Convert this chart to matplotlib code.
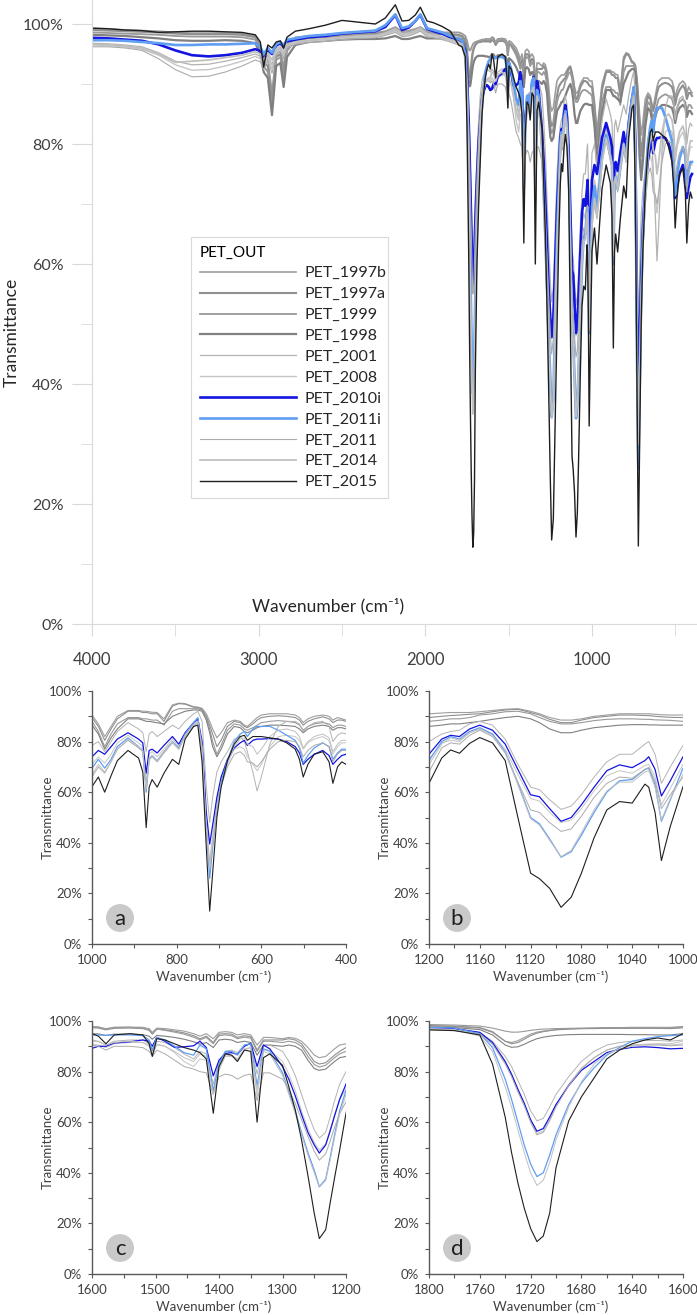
import matplotlib
matplotlib.use("Agg")
import matplotlib.pyplot as plt
from matplotlib.patches import Circle
from matplotlib.ticker import MultipleLocator, PercentFormatter

plt.rcParams["font.family"] = ["Lato", "DejaVu Sans"]

# wavenumber grid (cm-1) shared by every spectrum
wavenumber = [
    4000, 3900, 3800, 3700, 3600, 3500, 3400, 3300, 3200, 3100, 3020, 2990, 2970, 2945, 2920, 2895, 2870,
    2850, 2830, 2780, 2700, 2600, 2500, 2400, 2300, 2240, 2180, 2140, 2100, 2060, 2030, 1990, 1950, 1900, 1850,
    1800, 1780, 1760, 1750, 1740, 1735, 1730, 1725, 1720, 1715, 1710, 1705, 1700, 1690, 1680, 1670, 1660,
    1650, 1640, 1630, 1620, 1610,
    1600, 1590, 1578, 1565, 1540, 1520, 1510, 1505, 1498, 1485, 1470, 1455, 1440, 1430, 1420, 1409, 1400,
    1390, 1380, 1371, 1360, 1350, 1340, 1330, 1320, 1300, 1290, 1280, 1270, 1260, 1250, 1242, 1232, 1225, 1218, 1210,
    1200, 1190, 1183, 1176, 1168, 1160, 1150, 1140, 1130, 1120, 1113, 1105, 1096, 1088, 1080, 1070, 1060,
    1050, 1040, 1030, 1027, 1022, 1017, 1010,
    1000, 985, 970, 955, 940, 915, 890, 880, 872, 865, 858, 846, 830, 810, 795, 780, 760, 750, 740, 730, 722,
    715, 705, 695, 680, 664, 650, 640, 633, 620, 610, 600, 580, 560, 540, 520, 510, 501, 490, 475, 455, 440,
    431, 420, 410, 400,
]

# transmittance (%)
pet_1997b = [
    99.3, 99.2, 99.0, 98.9, 98.8, 98.6, 98.5, 98.5, 98.5, 98.4, 98.0, 96.5, 94.5, 94.0, 88.7, 95.0, 95.5,
    93.0, 96.5, 97.8, 98.0, 98.2, 98.4, 98.6, 98.6, 98.8, 99.5, 98.8, 98.9, 99.2, 99.5, 98.8, 98.7, 98.5, 98.3,
    98.0, 97.8, 97.2, 95.5, 92.0, 91.5, 92.2, 93.5, 94.8, 95.6, 96.0, 96.3, 96.6, 96.9, 97.0, 97.1, 97.2,
    97.2, 97.2, 97.2, 97.2, 97.2,
    97.6, 97.5, 97.0, 97.5, 97.6, 97.5, 97.0, 95.5, 97.2, 97.0, 96.5, 96.0, 95.0, 94.0, 95.0, 93.0, 95.5,
    95.8, 95.5, 94.5, 95.0, 94.5, 90.5, 93.5, 93.5, 93.0, 93.5, 93.2, 92.0, 89.5, 86.5, 85.5, 86.0, 87.5, 89.0, 90.5,
    91.0, 91.3, 91.5, 91.5, 91.5, 91.8, 92.3, 92.8, 93.0, 92.0, 91.0, 89.5, 88.5, 88.5, 89.0, 90.0, 90.5,
    91.0, 91.0, 91.0, 91.0, 90.8, 90.6, 90.5,
    90.5, 87.0, 82.0, 86.0, 90.0, 92.3, 92.3, 92.0, 92.0, 91.8, 91.6, 91.5, 89.0, 94.5, 95.2, 95.0, 93.8,
    93.6, 93.2, 91.0, 88.0, 85.0, 81.5, 83.5, 87.5, 88.5, 88.0, 86.5, 86.0, 88.0, 89.5, 90.5, 91.0, 91.0,
    91.0, 90.5, 89.5, 87.5, 89.0, 90.0, 90.5, 90.0, 88.5, 89.5, 89.0, 88.5,
]
pet_1997a = [
    99.0, 98.9, 98.8, 98.7, 98.6, 98.4, 98.3, 98.3, 98.3, 98.2, 97.8, 96.0, 93.5, 93.0, 87.1, 94.5, 95.0,
    92.0, 96.0, 97.5, 97.8, 98.0, 98.2, 98.4, 98.4, 98.6, 99.2, 98.5, 98.6, 98.9, 99.2, 98.5, 98.4, 98.3, 98.3,
    98.2, 98.0, 97.4, 95.8, 92.0, 91.0, 91.5, 92.8, 94.2, 95.2, 95.8, 96.2, 96.5, 96.8, 97.0, 97.0, 97.1,
    97.1, 97.1, 97.1, 97.1, 97.0,
    97.3, 97.2, 96.5, 97.1, 97.2, 97.0, 96.3, 94.8, 96.8, 96.5, 96.0, 95.3, 94.2, 93.0, 94.0, 91.5, 94.8,
    95.0, 94.8, 93.5, 94.2, 93.8, 88.5, 92.5, 92.5, 92.5, 93.0, 92.5, 91.0, 87.5, 84.0, 83.0, 83.5, 85.0, 86.5, 88.0,
    89.5, 90.0, 90.3, 90.5, 90.8, 91.0, 91.8, 92.5, 92.8, 91.5, 90.5, 88.8, 87.5, 87.5, 88.5, 89.5, 90.0,
    90.5, 90.5, 90.3, 90.3, 90.0, 89.8, 89.6,
    89.5, 86.0, 80.5, 85.0, 89.0, 92.0, 92.0, 91.5, 91.5, 91.3, 91.0, 91.0, 88.0, 94.0, 95.0, 94.8, 93.6,
    93.5, 92.8, 90.0, 86.5, 83.0, 78.0, 80.5, 86.0, 88.0, 87.5, 86.0, 85.5, 87.0, 88.5, 89.5, 90.0, 90.2,
    90.0, 89.5, 88.5, 86.5, 88.0, 89.0, 89.8, 89.0, 87.5, 88.5, 88.5, 88.0,
]
pet_1999 = [
    98.6, 98.5, 98.4, 98.3, 98.2, 98.0, 97.9, 97.9, 97.9, 97.8, 97.4, 95.5, 93.0, 92.0, 86.0, 94.0, 94.5,
    91.0, 95.5, 97.2, 97.6, 97.8, 98.0, 98.2, 98.2, 98.4, 99.0, 98.4, 98.4, 98.7, 99.0, 98.5, 98.5, 98.6, 98.6,
    98.6, 98.4, 98.0, 97.2, 96.0, 95.6, 95.6, 95.9, 96.3, 96.6, 96.8, 96.9, 97.0, 97.1, 97.2, 97.3, 97.4,
    97.4, 97.5, 97.5, 97.5, 97.5,
    97.8, 97.7, 96.8, 97.5, 97.5, 97.2, 96.5, 95.0, 96.8, 96.3, 95.6, 94.8, 93.6, 92.5, 93.5, 91.0, 94.2,
    94.5, 94.2, 93.0, 93.6, 93.2, 88.0, 92.0, 92.0, 91.5, 92.0, 91.5, 90.0, 86.0, 82.8, 81.8, 82.5, 84.0, 85.5, 87.0,
    88.0, 88.5, 89.0, 89.0, 89.5, 90.5, 91.0, 91.8, 92.0, 91.0, 89.5, 88.0, 87.0, 87.0, 87.5, 88.3, 88.8,
    89.0, 89.0, 88.8, 88.8, 88.6, 88.5, 88.4,
    88.0, 84.0, 78.0, 83.0, 87.0, 89.5, 89.5, 89.0, 89.0, 88.8, 88.5, 88.5, 86.5, 92.0, 93.0, 93.0, 93.0,
    93.0, 92.5, 89.5, 85.0, 80.0, 75.0, 78.5, 84.5, 87.0, 86.5, 85.0, 84.5, 85.5, 86.5, 87.5, 88.0, 88.3,
    88.0, 87.5, 86.5, 84.5, 86.0, 87.0, 87.5, 87.0, 85.5, 86.5, 86.5, 86.0,
]
pet_1998 = [
    98.2, 98.1, 98.0, 97.8, 97.6, 97.3, 97.2, 97.2, 97.3, 97.2, 96.8, 95.0, 92.0, 91.0, 84.8, 93.0, 93.5,
    89.5, 94.5, 96.5, 97.0, 97.2, 97.4, 97.5, 97.5, 97.6, 98.0, 97.5, 97.5, 97.8, 98.0, 97.6, 97.6, 97.6, 97.6,
    97.6, 97.4, 96.6, 94.5, 90.5, 89.6, 89.8, 90.8, 92.0, 93.0, 93.6, 94.0, 94.3, 94.6, 94.7, 94.7, 94.7,
    94.7, 94.6, 94.6, 94.5, 94.5,
    95.0, 94.9, 94.3, 94.8, 94.8, 94.6, 94.0, 92.8, 94.3, 94.0, 93.5, 92.8, 91.8, 90.8, 91.5, 89.5, 92.5,
    92.8, 92.5, 91.5, 92.0, 91.5, 86.5, 90.5, 90.5, 90.0, 90.5, 90.0, 88.5, 84.5, 81.2, 80.5, 81.0, 82.5, 84.0, 85.5,
    86.0, 86.5, 87.0, 87.0, 87.5, 88.0, 88.8, 89.5, 90.0, 89.0, 87.5, 85.0, 83.5, 83.5, 84.5, 85.5, 86.0,
    86.5, 86.7, 86.7, 86.6, 86.6, 86.5, 86.5,
    86.5, 83.0, 77.0, 81.5, 85.0, 89.0, 89.0, 88.5, 88.0, 88.0, 87.8, 87.5, 87.0, 90.0, 91.0, 92.0, 92.5,
    92.5, 92.0, 88.5, 83.5, 78.0, 74.0, 77.0, 83.0, 86.0, 85.5, 84.0, 83.5, 84.5, 85.5, 86.0, 86.5, 86.5,
    86.3, 86.0, 85.0, 83.5, 85.0, 86.0, 86.5, 86.0, 84.5, 85.5, 85.5, 85.0,
]
pet_2001 = [
    96.8, 96.7, 96.5, 96.2, 95.2, 93.8, 93.2, 93.3, 93.8, 94.4, 95.0, 94.6, 93.5, 94.8, 93.2, 95.5, 96.0,
    95.0, 96.5, 96.9, 97.2, 97.4, 97.7, 97.9, 98.0, 98.4, 99.0, 98.3, 98.4, 98.8, 99.2, 98.3, 98.1, 97.9, 97.5,
    97.0, 96.8, 95.5, 92.0, 86.0, 82.0, 76.5, 71.0, 64.5, 60.5, 61.5, 66.0, 71.0, 78.0, 84.0, 88.0, 90.5,
    91.5, 92.0, 92.3, 92.3, 92.0,
    92.5, 92.0, 90.5, 92.0, 92.5, 92.5, 91.0, 88.0, 92.0, 91.5, 89.5, 87.0, 85.0, 88.0, 87.0, 75.0, 84.0,
    88.0, 88.5, 87.5, 90.5, 91.0, 79.0, 90.0, 90.5, 88.0, 84.0, 78.5, 71.0, 63.5, 57.0, 53.7, 56.0, 62.0, 68.5, 75.0,
    80.0, 83.0, 84.0, 84.5, 87.0, 88.0, 86.5, 81.0, 71.0, 62.0, 61.0, 57.0, 53.2, 54.5, 59.0, 66.0, 72.0,
    75.0, 75.0, 79.0, 80.0, 75.0, 63.5, 70.0,
    78.5, 80.0, 76.0, 80.0, 84.0, 87.5, 85.0, 83.5, 76.0, 83.0, 84.0, 82.0, 84.0, 86.5, 85.0, 88.0, 91.0,
    92.0, 88.0, 62.0, 48.0, 58.0, 68.0, 72.0, 76.0, 81.0, 82.0, 80.0, 76.0, 68.0, 60.5, 66.0, 79.0, 86.0,
    88.0, 88.0, 87.0, 84.0, 86.0, 87.5, 88.0, 86.0, 80.0, 82.5, 83.5, 83.0,
]
pet_2008 = [
    96.5, 96.4, 96.2, 95.8, 94.8, 93.2, 92.3, 92.4, 93.0, 93.8, 94.6, 94.2, 93.0, 94.5, 92.5, 95.2, 95.8,
    94.6, 96.3, 96.8, 97.1, 97.3, 97.6, 97.8, 97.9, 98.3, 98.8, 98.1, 98.2, 98.6, 99.0, 98.1, 97.9, 97.6, 97.2,
    96.8, 96.5, 95.0, 91.0, 83.5, 78.5, 72.5, 67.0, 60.5, 55.5, 56.5, 61.0, 66.5, 75.0, 81.5, 85.5, 88.5,
    90.0, 90.5, 90.8, 90.8, 90.5,
    91.0, 90.5, 89.5, 91.0, 91.5, 91.5, 90.5, 87.0, 91.0, 90.0, 87.5, 84.0, 82.0, 85.0, 84.5, 71.5, 81.5,
    86.0, 86.0, 84.5, 88.5, 89.5, 70.0, 88.5, 88.5, 84.0, 79.0, 72.5, 64.5, 57.5, 52.0, 49.0, 51.5, 57.0, 63.0, 69.0,
    73.0, 79.5, 80.5, 80.0, 83.5, 85.0, 83.0, 77.0, 67.0, 57.5, 56.5, 52.0, 48.0, 49.0, 53.5, 60.5, 66.5,
    68.5, 67.5, 70.5, 71.0, 66.0, 55.0, 61.5,
    71.0, 74.0, 71.5, 75.0, 79.5, 82.5, 79.5, 78.0, 64.0, 75.0, 76.0, 74.0, 77.0, 81.0, 78.0, 83.0, 87.0,
    88.5, 79.0, 48.0, 33.0, 43.0, 56.0, 65.0, 72.0, 77.0, 78.0, 77.0, 74.0, 71.0, 68.5, 71.0, 78.0, 82.0,
    82.5, 82.0, 80.5, 77.0, 79.5, 81.0, 82.0, 80.5, 75.0, 78.0, 79.5, 79.5,
]
pet_2010i = [
    97.7, 97.6, 97.4, 97.2, 96.6, 95.6, 94.8, 94.6, 94.8, 95.2, 95.8, 95.5, 94.0, 95.6, 95.0, 96.4, 96.8,
    96.0, 97.0, 97.4, 97.8, 98.0, 98.4, 98.6, 98.8, 99.5, 101.5, 99.0, 99.4, 100.5, 101.5, 99.2, 98.8, 98.4, 97.8,
    97.4, 97.0, 95.5, 91.5, 84.0, 79.0, 73.0, 67.5, 61.0, 56.4, 57.5, 62.0, 67.0, 74.5, 80.5, 84.0, 87.5,
    88.8, 89.6, 89.8, 89.5, 89.0,
    89.2, 90.0, 90.0, 91.3, 91.8, 92.5, 92.0, 90.0, 93.5, 92.0, 89.6, 89.8, 90.2, 92.0, 89.5, 78.3, 84.5,
    87.2, 87.5, 86.8, 90.0, 91.2, 82.0, 90.5, 89.0, 82.0, 77.0, 70.5, 63.0, 56.0, 51.0, 47.8, 51.0, 56.5, 62.5, 69.0,
    75.0, 81.0, 82.5, 82.0, 85.0, 86.5, 84.5, 79.0, 69.0, 59.0, 58.2, 53.5, 48.5, 50.0, 55.0, 62.0, 68.5,
    70.8, 69.7, 72.5, 74.0, 69.0, 58.5, 64.5,
    74.0, 76.5, 75.0, 78.0, 81.0, 83.5, 81.0, 79.5, 67.5, 76.5, 77.0, 75.5, 78.5, 82.0, 79.0, 83.5, 87.5,
    89.0, 80.0, 52.0, 39.5, 47.0, 58.0, 66.0, 73.0, 77.5, 79.5, 80.5, 78.5, 80.5, 81.0, 81.0, 81.2, 81.0,
    80.0, 78.0, 75.5, 71.0, 73.0, 75.0, 76.5, 74.5, 71.0, 73.0, 74.5, 75.0,
]
pet_2011i = [
    97.3, 97.3, 97.2, 97.0, 96.8, 96.5, 96.5, 96.6, 96.6, 96.7, 96.8, 96.2, 95.0, 96.0, 95.2, 96.6, 97.0,
    96.5, 97.4, 97.6, 98.0, 98.2, 98.5, 98.7, 98.9, 99.8, 101.6, 99.3, 99.6, 100.5, 101.6, 99.3, 99.0, 98.6, 98.0,
    97.5, 97.2, 95.0, 89.5, 77.0, 69.0, 60.0, 51.0, 43.5, 38.5, 40.0, 47.0, 55.0, 67.0, 75.5, 81.5, 86.5,
    89.5, 92.0, 93.0, 93.8, 94.2,
    94.5, 94.5, 94.3, 94.5, 94.5, 94.2, 92.5, 88.5, 93.5, 92.5, 90.0, 87.5, 86.5, 90.5, 89.0, 72.5, 83.0,
    88.0, 88.0, 86.5, 90.5, 91.0, 74.5, 89.0, 88.0, 79.5, 72.0, 64.5, 56.0, 48.0, 41.0, 34.5, 37.5, 46.0, 55.0, 64.5,
    72.5, 80.0, 82.0, 81.0, 84.0, 85.5, 83.0, 76.0, 63.5, 50.0, 47.5, 41.5, 34.3, 36.5, 43.0, 52.0, 60.0,
    64.5, 65.0, 69.0, 69.5, 63.0, 48.5, 57.0,
    69.5, 73.0, 69.5, 73.0, 78.0, 81.5, 78.0, 76.5, 60.0, 73.0, 74.5, 72.5, 76.0, 80.0, 77.5, 83.0, 87.5,
    89.5, 78.0, 45.0, 26.0, 38.0, 54.0, 64.0, 72.5, 80.0, 83.0, 84.0, 82.0, 85.0, 86.0, 86.0, 86.0, 84.5,
    82.5, 80.5, 77.5, 71.5, 74.5, 77.5, 79.5, 78.0, 73.0, 75.5, 77.0, 77.0,
]
pet_2011 = [
    96.2, 96.2, 96.0, 95.6, 94.2, 92.4, 91.2, 91.3, 92.0, 93.0, 94.0, 93.7, 92.5, 94.0, 91.8, 94.8, 95.5,
    94.2, 96.0, 96.6, 96.9, 97.1, 97.4, 97.6, 97.7, 98.1, 98.6, 97.9, 98.0, 98.4, 98.8, 97.9, 97.7, 97.4, 97.0,
    96.5, 96.2, 94.8, 90.8, 83.0, 78.0, 72.0, 66.5, 60.0, 55.0, 56.0, 60.5, 66.0, 74.5, 81.0, 85.5, 88.5,
    90.0, 90.5, 90.5, 90.5, 90.2,
    90.5, 90.0, 88.5, 90.0, 90.0, 89.5, 88.0, 86.0, 88.5, 87.0, 84.5, 82.0, 81.0, 80.0, 79.5, 71.0, 78.0,
    79.0, 78.5, 77.0, 78.5, 79.0, 68.5, 79.5, 79.5, 77.0, 73.0, 67.5, 61.0, 54.5, 48.5, 45.0, 47.5, 52.5, 58.0, 63.5,
    68.0, 77.5, 79.5, 79.0, 82.5, 84.5, 82.0, 75.5, 64.0, 53.0, 52.0, 48.0, 44.5, 45.5, 50.5, 58.0, 63.5,
    66.0, 65.5, 69.0, 69.8, 64.5, 53.5, 59.0,
    66.0, 70.0, 67.5, 72.0, 77.0, 80.5, 77.5, 76.0, 61.0, 73.0, 74.0, 72.0, 75.5, 79.5, 77.0, 82.0, 86.0,
    87.5, 77.0, 45.0, 30.0, 40.0, 53.0, 62.5, 70.0, 75.0, 76.0, 74.5, 72.0, 71.5, 70.0, 72.0, 77.0, 80.0,
    80.5, 80.0, 78.0, 74.0, 76.5, 78.5, 79.5, 78.0, 72.0, 75.0, 76.5, 76.5,
]
pet_2014 = [
    96.6, 96.5, 96.3, 96.0, 95.0, 93.6, 93.8, 94.0, 94.4, 94.8, 95.4, 95.0, 94.0, 95.2, 94.0, 95.8, 96.3,
    95.5, 96.7, 97.0, 97.3, 97.5, 97.8, 98.0, 98.1, 98.5, 99.2, 98.4, 98.5, 98.9, 99.3, 98.4, 98.2, 97.9, 97.4,
    97.0, 96.6, 94.0, 88.0, 74.0, 66.0, 57.0, 48.0, 40.0, 35.0, 37.0, 44.0, 53.0, 66.0, 76.0, 83.0, 87.0,
    89.0, 90.0, 90.8, 91.0, 91.0,
    92.0, 91.8, 90.5, 91.5, 92.0, 91.5, 90.0, 86.5, 90.5, 90.0, 88.0, 85.5, 84.0, 87.0, 86.0, 71.0, 80.5,
    86.5, 86.5, 85.0, 89.0, 89.5, 72.5, 88.0, 87.0, 78.5, 71.0, 63.5, 55.0, 47.0, 40.0, 34.3, 37.0, 45.0, 54.0, 63.0,
    71.0, 79.0, 81.5, 80.5, 83.5, 85.0, 82.5, 75.5, 63.0, 49.5, 47.0, 41.0, 34.5, 37.0, 44.0, 53.0, 60.5,
    64.0, 64.0, 68.0, 68.5, 62.0, 49.0, 57.5,
    67.0, 71.0, 68.0, 72.0, 77.0, 81.0, 78.0, 76.5, 61.5, 73.5, 74.5, 72.5, 76.0, 80.0, 77.0, 82.5, 86.5,
    88.0, 77.5, 46.0, 30.0, 41.0, 54.0, 63.0, 71.0, 78.0, 81.0, 81.5, 79.0, 78.0, 75.0, 77.0, 82.0, 84.5,
    85.0, 84.0, 82.0, 77.5, 80.0, 82.0, 83.0, 81.5, 76.0, 79.0, 80.5, 80.5,
]
pet_2015 = [
    99.3, 99.2, 99.0, 98.9, 98.6, 98.7, 98.8, 98.8, 98.7, 98.6, 98.2, 97.0, 92.8, 96.5, 96.0, 97.0, 97.2,
    96.0, 97.8, 98.8, 99.2, 99.8, 100.6, 100.3, 100.0, 101.0, 103.2, 100.5, 100.6, 101.5, 102.8, 100.5, 100.2, 99.6, 98.8,
    96.5, 96.2, 94.5, 83.0, 62.0, 48.0, 36.0, 26.0, 18.0, 12.8, 15.0, 24.0, 42.0, 60.5, 70.0, 77.5, 85.0,
    88.5, 91.0, 92.5, 93.3, 92.5,
    95.0, 94.0, 91.0, 94.5, 95.0, 94.5, 91.0, 86.0, 93.0, 92.5, 91.0, 89.5, 88.5, 87.5, 85.0, 63.5, 82.0,
    87.0, 86.5, 84.0, 88.5, 88.0, 60.0, 85.5, 87.0, 82.5, 74.0, 65.0, 53.0, 39.0, 24.0, 14.0, 17.5, 28.0, 38.0, 49.0,
    63.5, 73.5, 76.7, 75.4, 79.3, 81.6, 79.5, 72.5, 50.0, 28.0, 25.8, 22.0, 14.5, 18.5, 28.0, 42.0, 53.0,
    56.3, 55.7, 63.2, 62.0, 52.0, 33.0, 46.5,
    62.2, 66.0, 60.0, 66.5, 72.5, 76.5, 73.5, 68.0, 46.0, 62.0, 65.0, 62.0, 67.5, 73.0, 71.0, 81.0, 86.0,
    86.5, 72.0, 38.0, 13.0, 28.0, 50.0, 62.0, 72.5, 79.0, 82.0, 82.5, 80.5, 82.0, 82.0, 82.0, 81.5, 81.0,
    79.5, 77.0, 73.0, 66.0, 71.0, 75.0, 76.0, 72.0, 63.5, 70.0, 72.0, 71.0,
]

# name, values, colour, width in big panel, width in zooms
series = [
    ("PET_1997b", pet_1997b, "#9e9e9e", 1.2, 0.8),
    ("PET_1997a", pet_1997a, "#8f8f8f", 1.5, 0.8),
    ("PET_1999", pet_1999, "#999999", 1.3, 0.8),
    ("PET_1998", pet_1998, "#808080", 1.6, 0.8),
    ("PET_2001", pet_2001, "#b3b3b3", 0.9, 0.7),
    ("PET_2008", pet_2008, "#c6c6c6", 1.0, 0.7),
    ("PET_2010i", pet_2010i, "#1414e0", 1.9, 0.9),
    ("PET_2011i", pet_2011i, "#5f9ef2", 1.9, 0.9),
    ("PET_2011", pet_2011, "#ababab", 0.8, 0.7),
    ("PET_2014", pet_2014, "#c0c0c0", 1.3, 0.7),
    ("PET_2015", pet_2015, "#1e1e1e", 1.0, 0.8),
]

W, H = 697, 1315
fig = plt.figure(figsize=(W / 100, H / 100), dpi=100)


def rect(left, top, right, bottom):
    return [left / W, 1 - bottom / H, (right - left) / W, (bottom - top) / H]


# ---- full spectrum
ax = fig.add_axes(rect(92, 0, 697, 624))
ax.patch.set_alpha(0)
for name, vals, color, lw, _ in series:
    ax.plot(wavenumber, vals, color=color, lw=lw, label=name)
ax.set_xlim(4000, 370)
ax.set_ylim(0, 104)
for s in ("top", "right"):
    ax.spines[s].set_visible(False)
for s in ("left", "bottom"):
    ax.spines[s].set_color("#d9d9d9")
ax.yaxis.set_major_locator(MultipleLocator(20))
ax.yaxis.set_minor_locator(MultipleLocator(10))
ax.yaxis.set_major_formatter(PercentFormatter(decimals=0))
ax.xaxis.set_major_locator(MultipleLocator(1000))
ax.xaxis.set_minor_locator(MultipleLocator(500))
ax.tick_params(axis="y", which="major", length=14.4, color="#d9d9d9", labelsize=11.5,
               labelcolor="#404040", pad=6)
ax.tick_params(axis="y", which="minor", length=8, color="#d9d9d9")
ax.tick_params(axis="x", which="both", length=8.5, color="#d9d9d9")
ax.tick_params(axis="x", which="major", labelsize=12, labelcolor="#404040", pad=12)
fig.text(12 / W, 1 - 332 / H, "Transmittance", rotation=90, ha="center", va="center",
         fontsize=12.5, color="#262626")
fig.text(328 / W, 1 - 606 / H, "Wavenumber (cm⁻¹)", ha="center", va="center",
         fontsize=12.5, color="#262626")

leg = fig.legend(handles=ax.get_lines(), loc="upper left",
                 bbox_to_anchor=(191 / W, 1 - 238 / H, 197 / W, 0.001), mode="expand",
                 borderaxespad=0, title="PET_OUT", alignment="left", fontsize=11.5,
                 title_fontsize=11, handlelength=6.0, handletextpad=0.55, labelspacing=0.42,
                 borderpad=0.55, fancybox=False, edgecolor="#d9d9d9", framealpha=1)
leg.get_frame().set_linewidth(0.8)
for t in leg.get_texts():
    t.set_color("#262626")


# ---- zoomed panels
def zoom_panel(left, top, hi, lo, major, minor, tag):
    a = fig.add_axes(rect(left, top, left + 254, top + 253))
    for name, vals, color, _, lw in series:
        a.plot(wavenumber, vals, color=color, lw=lw)
    a.set_xlim(hi, lo)
    a.set_ylim(0, 100)
    for s in ("top", "right"):
        a.spines[s].set_visible(False)
    for s in ("left", "bottom"):
        a.spines[s].set_color("#595959")
        a.spines[s].set_linewidth(1.0)
    a.yaxis.set_major_locator(MultipleLocator(20))
    a.yaxis.set_minor_locator(MultipleLocator(10))
    a.yaxis.set_major_formatter(PercentFormatter(decimals=0))
    a.xaxis.set_major_locator(MultipleLocator(major))
    a.xaxis.set_minor_locator(MultipleLocator(minor))
    a.tick_params(which="both", direction="out", length=3, width=0.8, color="#595959")
    a.tick_params(which="major", labelsize=9.5, labelcolor="#404040", pad=4)
    a.add_patch(Circle((28 / 254, 26 / 253), 14 / 254, transform=a.transAxes,
                       color="#c9c9c9", lw=0, zorder=5))
    a.text(28 / 254, 25 / 253, tag, transform=a.transAxes, ha="center", va="center",
           fontsize=16, color="#1e1e1e", zorder=6)
    fig.text((left - 44) / W, 1 - (top + 126) / H, "Transmittance", rotation=90,
             ha="center", va="center", fontsize=9.5, color="#404040")
    fig.text((left + 122) / W, 1 - (top + 286) / H, "Wavenumber (cm⁻¹)",
             ha="center", va="center", fontsize=9.5, color="#404040")
    return a


zoom_panel(92, 691, 1000, 400, 200, 100, "a")
zoom_panel(429, 691, 1200, 1000, 40, 20, "b")
zoom_panel(92, 1021, 1600, 1200, 100, 50, "c")
zoom_panel(429, 1021, 1800, 1600, 40, 20, "d")

fig.savefig("out.png", dpi=100)
